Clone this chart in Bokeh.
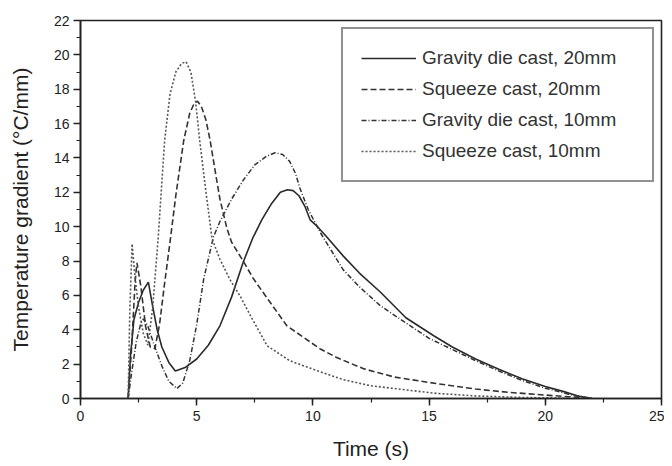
from bokeh.plotting import figure
from bokeh.models import SingleIntervalTicker, Range1d, Legend, LegendItem
from bokeh.embed import file_html
from bokeh.resources import INLINE

# Gravity die cast, 20mm (solid)
g20_t = [2.05, 2.15, 2.3, 2.5, 2.7, 2.92, 3.1, 3.3, 3.5, 3.8, 4.08, 4.5, 5.0, 5.5, 6.0, 6.5, 7.0, 7.4, 7.8, 8.2,
         8.6, 8.9, 9.15, 9.4, 9.65, 9.88, 10.2, 10.6, 11.3, 12.0, 12.9, 14.0, 15.2, 16.0, 17.0, 18.0, 19.0, 20.0,
         20.8, 21.4, 22.0]
g20_v = [0, 2.5, 4.6, 5.6, 6.3, 6.77, 5.4, 4.0, 3.0, 2.1, 1.6, 1.8, 2.3, 3.1, 4.23, 5.9, 7.93, 9.3, 10.4, 11.3,
         12.0, 12.15, 12.1, 11.8, 11.2, 10.4, 10.0, 9.4, 8.3, 7.3, 6.2, 4.7, 3.65, 3.0, 2.3, 1.7, 1.15, 0.7,
         0.4, 0.15, 0]

# Squeeze cast, 20mm (dashed)
s20_t = [2.05, 2.2, 2.35, 2.43, 2.6, 2.8, 3.0, 3.2, 3.4, 3.6, 3.87, 4.1, 4.44, 4.7, 4.9, 5.04, 5.2, 5.4, 5.58,
         5.8, 6.0, 6.3, 6.5, 7.0, 7.45, 8.0, 8.88, 10.3, 11.0, 12.16, 13.5, 15.3, 17.0, 18.5, 20.0, 21.0, 22.0]
s20_v = [0, 3.0, 6.8, 7.9, 6.5, 4.2, 3.0, 2.9, 4.3, 6.5, 9.3, 11.8, 15.0, 16.6, 17.2, 17.3, 17.0, 16.2, 15.0,
         13.2, 11.6, 9.9, 9.1, 8.0, 6.95, 5.9, 4.23, 2.9, 2.4, 1.74, 1.25, 0.87, 0.55, 0.35, 0.2, 0.1, 0.03]

# Gravity die cast, 10mm (dash-dot)
g10_t = [2.05, 2.2, 2.4, 2.6, 2.71, 2.9, 3.2, 3.5, 3.8, 4.15, 4.4, 4.7, 5.0, 5.3, 5.72, 6.0, 6.5, 7.0, 7.5, 8.0,
         8.37, 8.7, 9.0, 9.25, 9.45, 9.8, 10.3, 10.8, 11.3, 12.0, 12.9, 14.0, 15.0, 16.0, 17.0, 18.0, 19.0, 20.0,
         21.0, 21.7, 22.1]
g10_v = [0, 1.5, 3.3, 4.4, 4.63, 4.2, 3.0, 1.9, 1.0, 0.58, 0.9, 2.2, 4.3, 6.95, 9.4, 10.3, 11.6, 12.7, 13.6, 14.1,
         14.3, 14.2, 13.8, 13.1, 12.2, 11.0, 9.7, 8.6, 7.5, 6.5, 5.4, 4.4, 3.5, 2.85, 2.2, 1.6, 1.05, 0.6,
         0.25, 0.08, 0]

# Squeeze cast, 10mm (dotted)
s10_t = [2.05, 2.12, 2.22, 2.35, 2.5, 2.7, 2.9, 3.1, 3.34, 3.62, 3.85, 4.1, 4.35, 4.54, 4.75, 4.95, 5.13, 5.4,
         5.66, 6.0, 6.44, 6.87, 7.4, 8.03, 9.0, 10.3, 11.3, 12.46, 14.0, 15.3, 17.0, 19.0, 21.0]
s10_v = [0, 5.0, 9.0, 7.0, 5.3, 3.8, 3.1, 5.2, 9.3, 15.0, 17.7, 19.0, 19.5, 19.6, 19.0, 17.3, 15.0, 12.0,
         9.3, 8.1, 6.9, 5.96, 4.6, 3.07, 2.2, 1.56, 1.1, 0.75, 0.5, 0.3, 0.15, 0.06, 0.02]

labels = ["Gravity die cast, 20mm", "Squeeze cast, 20mm", "Gravity die cast, 10mm", "Squeeze cast, 10mm"]

FONT = "Liberation Sans"
INK = "#222222"

p = figure(width=664, height=462, output_backend="svg", toolbar_location=None,
           x_range=Range1d(0, 25), y_range=Range1d(0, 22),
           min_border_left=80, min_border_right=3, min_border_top=20, min_border_bottom=64)
p.background_fill_color = "white"
p.border_fill_color = "white"
p.outline_line_color = INK
p.outline_line_width = 1.6
p.xgrid.visible = False
p.ygrid.visible = False

p.xaxis.ticker = SingleIntervalTicker(interval=5, num_minor_ticks=2)
p.yaxis.ticker = SingleIntervalTicker(interval=2, num_minor_ticks=2)
for ax in (p.xaxis, p.yaxis):
    ax.axis_line_color = INK
    ax.axis_line_width = 1.6
    ax.major_tick_line_color = INK
    ax.minor_tick_line_color = INK
    ax.major_tick_line_width = 1.5
    ax.minor_tick_line_width = 1.2
    ax.major_tick_in = 0
    ax.minor_tick_in = 0
    ax.major_tick_out = 7
    ax.minor_tick_out = 4
    ax.major_label_text_font = FONT
    ax.major_label_text_font_size = "14px"
    ax.major_label_text_color = INK
    ax.axis_label_text_font = FONT
    ax.axis_label_text_font_style = "normal"
    ax.axis_label_text_color = INK
p.xaxis.major_label_standoff = 5
p.yaxis.major_label_standoff = 4
p.xaxis.axis_label = "Time (s)"
p.yaxis.axis_label = "Temperature gradient (\u00b0C/mm)"
p.xaxis.axis_label_text_font_size = "21px"
p.yaxis.axis_label_text_font_size = "21px"
p.xaxis.axis_label_standoff = 13
p.yaxis.axis_label_standoff = 19

r1 = p.line(g20_t, g20_v, line_color="#2a2a2a", line_width=1.6)
r2 = p.line(s20_t, s20_v, line_color="#333333", line_width=1.6, line_dash="6 3")
r3 = p.line(g10_t, g10_v, line_color="#333333", line_width=1.5, line_dash="5 2 1 2")
r4 = p.line(s10_t, s10_v, line_color="#555555", line_width=1.6, line_dash="2 2")

legend = Legend(items=[LegendItem(label=labels[0], renderers=[r1]),
                       LegendItem(label=labels[1], renderers=[r2]),
                       LegendItem(label=labels[2], renderers=[r3]),
                       LegendItem(label=labels[3], renderers=[r4])],
                location="top_right")
legend.margin = 7
legend.padding = 18
legend.spacing = 9
legend.glyph_width = 55
legend.glyph_height = 22
legend.label_height = 22
legend.label_width = 212
legend.label_standoff = 6
legend.label_text_font = FONT
legend.label_text_font_size = "19px"
legend.label_text_color = "#333333"
legend.border_line_color = INK
legend.border_line_width = 2
legend.background_fill_color = "white"
legend.background_fill_alpha = 1.0
p.add_layout(legend, "center")

open("out.html", "w").write(file_html(p, INLINE))
